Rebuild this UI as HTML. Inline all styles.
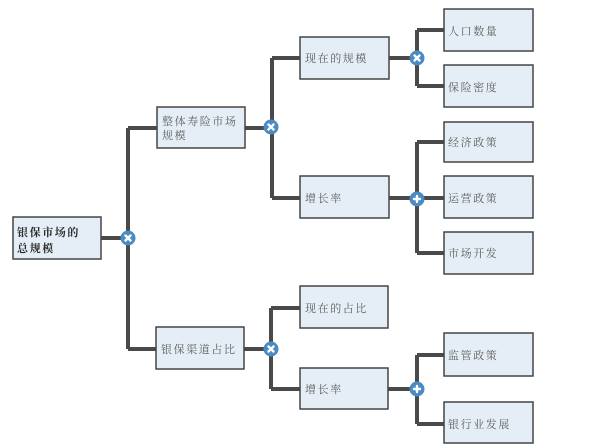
<!DOCTYPE html>
<html><head><meta charset="utf-8">
<style>
html,body{margin:0;padding:0;background:#fff;}
svg{display:block;}
text{font-family:"Noto Serif CJK SC","Liberation Serif","Noto Sans CJK SC",serif;font-size:11px;fill:#5e5e5e;letter-spacing:1.6px;dominant-baseline:central;}
.b{fill:#2a2a2a;font-weight:bold;}
rect{fill:#e5eef6;stroke:#454545;stroke-width:1.5;}
.ln{stroke:#4a4a4a;stroke-width:4;fill:none;}
.c{fill:#4a8bc4;}
.g{stroke:#fff;stroke-width:2.4;stroke-linecap:round;}
</style></head>
<body>
<svg width="610" height="448" viewBox="0 0 610 448" xmlns="http://www.w3.org/2000/svg">
<!-- connectors -->
<path class="ln" d="M101 238H128 M128 128V349 M128 128H157 M128 349H156"/>
<path class="ln" d="M245 128H272 M272 58V198 M272 58H300 M272 198H300"/>
<path class="ln" d="M389 58H417 M417 30V86 M417 30H444 M417 86H444"/>
<path class="ln" d="M389 198H444 M417 142V253 M417 142H444 M417 253H444"/>
<path class="ln" d="M244 349H271 M271 308V389 M271 308H300 M271 389H300"/>
<path class="ln" d="M388 389H417 M417 355V424 M417 355H444 M417 424H444"/>

<!-- boxes -->
<rect x="13" y="217" width="88" height="42"/>
<rect x="157" y="107" width="88" height="41"/>
<rect x="156" y="327" width="88" height="42"/>
<rect x="300" y="37" width="89" height="42"/>
<rect x="300" y="176" width="89" height="42"/>
<rect x="300" y="286" width="88" height="42"/>
<rect x="300" y="368" width="88" height="41"/>
<rect x="444" y="9" width="89" height="42"/>
<rect x="444" y="65" width="89" height="42"/>
<rect x="444" y="122" width="89" height="40"/>
<rect x="444" y="176" width="89" height="42"/>
<rect x="444" y="232" width="89" height="42"/>
<rect x="444" y="333" width="89" height="43"/>
<rect x="444" y="402" width="89" height="41"/>

<!-- labels -->
<text class="b" x="17" y="232">银保市场的</text>
<text class="b" x="17" y="248">总规模</text>
<text x="162" y="121">整体寿险市场</text>
<text x="162" y="135">规模</text>
<text x="161" y="349">银保渠道占比</text>
<text x="305" y="58">现在的规模</text>
<text x="305" y="198">增长率</text>
<text x="305" y="308">现在的占比</text>
<text x="305" y="389">增长率</text>
<text x="448" y="31">人口数量</text>
<text x="448" y="87">保险密度</text>
<text x="448" y="142">经济政策</text>
<text x="448" y="198">运营政策</text>
<text x="448" y="253">市场开发</text>
<text x="448" y="355">监管政策</text>
<text x="448" y="424">银行业发展</text>

<!-- operator circles -->
<g><circle class="c" cx="128" cy="238" r="7.5"/><path class="g" d="M125.5 235.5L130.5 240.5M130.5 235.5L125.5 240.5"/></g>
<g><circle class="c" cx="271" cy="127" r="7.5"/><path class="g" d="M268.5 124.5L273.5 129.5M273.5 124.5L268.5 129.5"/></g>
<g><circle class="c" cx="417" cy="58" r="7.5"/><path class="g" d="M414.5 55.5L419.5 60.5M419.5 55.5L414.5 60.5"/></g>
<g><circle class="c" cx="271" cy="349" r="7.5"/><path class="g" d="M268.5 346.5L273.5 351.5M273.5 346.5L268.5 351.5"/></g>
<g><circle class="c" cx="417" cy="199" r="7.5"/><path class="g" d="M417 196V202M414 199H420"/></g>
<g><circle class="c" cx="417" cy="389" r="7.5"/><path class="g" d="M417 386V392M414 389H420"/></g>
</svg>
</body></html>
